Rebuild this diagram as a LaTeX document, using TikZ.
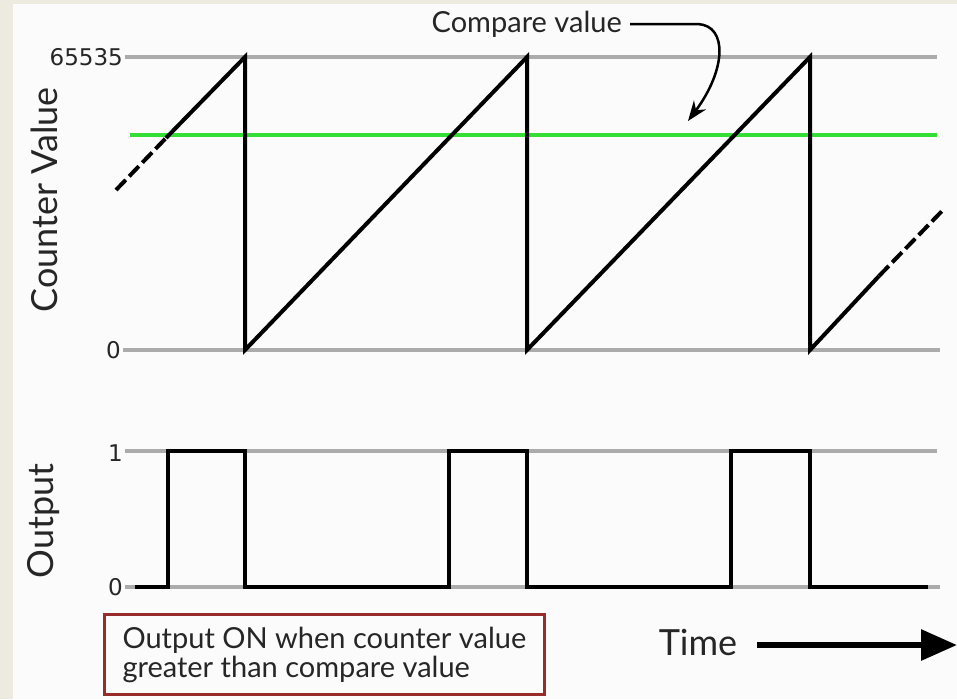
\documentclass[tikz,border=0pt]{standalone}
\usepackage{fontspec}
\setmainfont{Lato}
\newfontfamily\tickfont{DejaVu Sans}
\usetikzlibrary{arrows.meta}
\definecolor{paper}{HTML}{FBFBFB}
\definecolor{frame}{HTML}{EDEAE0}
\definecolor{gridgrey}{HTML}{ABABAB}
\definecolor{cmpgreen}{HTML}{35DE35}
\definecolor{boxred}{HTML}{962C2C}
\definecolor{ink}{HTML}{262626}
\tikzset{
  level/.style={draw=gridgrey, line width=4pt},
  compare/.style={draw=cmpgreen, line width=4.5pt},
  wave/.style={draw=black, line width=4pt, line join=miter},
  dashwave/.style={wave, dash pattern=on 14pt off 5pt},
  ticklabel/.style={font=\tickfont\fontsize{23}{25}\selectfont, text=ink, anchor=east, inner sep=2pt},
  axislabel/.style={font=\fontsize{36}{38}\selectfont, text=ink, rotate=90},
  note/.style={draw=boxred, line width=3pt, align=left, inner xsep=18pt, inner ysep=10pt,
    font=\fontsize{29}{29}\selectfont, text=ink, minimum height=80pt},
}
\begin{document}
\begin{tikzpicture}[x=1pt, y=-1pt]
  % page and its beige margin
  \fill[frame] (0,0) rectangle (957,699);
  \fill[paper] (13,4) rectangle (957,699);
  \useasboundingbox (0,0) rectangle (957,699);

  % counter plot levels
  \node[ticklabel] (tmax) at (125,57) {65535};
  \node[ticklabel] (tzero) at (123,350) {0};
  \coordinate (maxend) at (937,57);
  \coordinate (zeroend) at (940,350);
  \draw[level] (tmax.east) -- (maxend);
  \draw[level] (tzero.east) -- (zeroend);

  % compare level
  \coordinate (cmpstart) at (130,135);
  \coordinate (cmpend) at (937,135);
  \draw[compare] (cmpstart) -- (cmpend);

  % sawtooth counter
  \coordinate (r0) at (116,190);
  \coordinate (r0s) at (166,138);
  \coordinate (p1) at (245,57);
  \coordinate (b1) at (245,350);
  \coordinate (p2) at (527,57);
  \coordinate (b2) at (527,350);
  \coordinate (p3) at (810,57);
  \coordinate (b3) at (810,350);
  \coordinate (r3s) at (879,276);
  \coordinate (r3) at (943,210);
  \draw[dashwave] (r0) -- (r0s);
  \draw[wave] (r0s) -- (p1) -- (b1) -- (p2) -- (b2) -- (p3) -- (b3) -- (r3s);
  \draw[dashwave] (r3s) -- (r3);

  % output plot levels
  \node[ticklabel] (thigh) at (125,453) {1};
  \node[ticklabel] (tlow) at (125,587) {0};
  \coordinate (highend) at (937,451);
  \coordinate (lowend) at (940,587);
  \draw[level] (thigh.east |- highend) -- (highend);
  \draw[level] (tlow.east) -- (lowend);

  % PWM output
  \coordinate (o0) at (135,587);
  \coordinate (lastlow) at (928,587);
  \draw[wave] (o0) -- (168,587) -- (168,451) -- (245,451) -- (245,587)
    -- (449,587) -- (449,451) -- (527,451) -- (527,587)
    -- (731,587) -- (731,451) -- (810,451) -- (810,587) -- (lastlow);

  % axis titles
  \node[axislabel] (ylab1) at (44,200) {Counter Value};
  \node[axislabel] (ylab2) at (44,521) {Output};

  % compare value callout
  \node[font=\fontsize{29}{31}\selectfont, text=ink, anchor=base east, inner sep=0pt] (cmplabel) at (622,32) {Compare value};
  \coordinate (cmptip) at (688,121);
  \draw[line width=2.5pt, -{Stealth[length=20pt, width=15pt]}]
    ([xshift=8pt]cmplabel.east |- 0,24) -- (698,24) .. controls (728,26) and (726,70) .. (cmptip);

  % explanation box
  \node[note, anchor=north west] (notebox) at (103,613)
    {Output ON when counter value\\greater than compare value};

  % time axis
  \node[font=\fontsize{36}{38}\selectfont, text=ink, anchor=base, inner sep=0pt] (timelab) at (698,655) {Time};
  \coordinate (timetip) at (957,645);
  \draw[line width=6pt, -{Triangle[length=36pt, width=30pt]}] (757,645) -- (timetip);
\end{tikzpicture}
\end{document}
